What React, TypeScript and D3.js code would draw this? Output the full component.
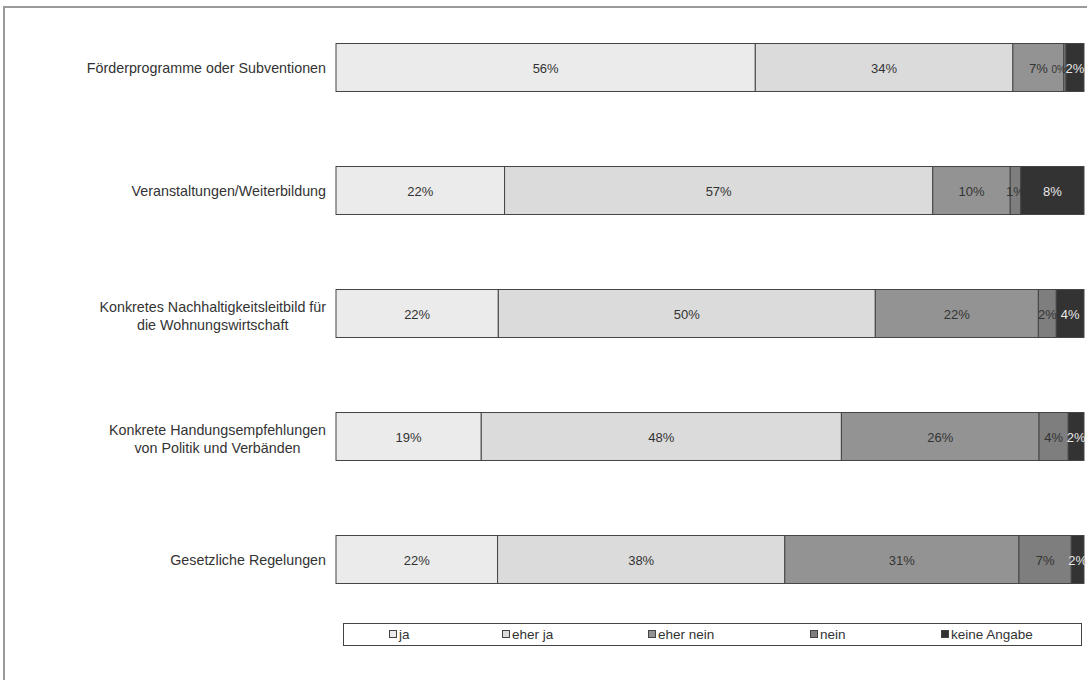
import React, { useEffect, useRef } from "react";
import * as d3 from "d3";

const categories = [
  "Förderprogramme oder Subventionen",
  "Veranstaltungen/Weiterbildung",
  "Konkretes Nachhaltigkeitsleitbild für\ndie Wohnungswirtschaft",
  "Konkrete Handungsempfehlungen\nvon Politik und Verbänden",
  "Gesetzliche Regelungen",
];
const seriesNames = ["ja", "eher ja", "eher nein", "nein", "keine Angabe"];
const ja = [56.0, 22.4, 21.7, 19.4, 21.6];
const eherJa = [34.4, 56.9, 50.4, 48.1, 38.4];
const eherNein = [6.8, 10.3, 21.8, 26.4, 31.3];
const nein = [0.3, 1.4, 2.4, 3.9, 7.0];
const keineAngabe = [2.4, 8.4, 3.7, 2.1, 1.7];
const seriesValues = [ja, eherJa, eherNein, nein, keineAngabe];
const colors = ["#ebebeb", "#dbdbdb", "#939393", "#7e7e7e", "#333333"];
const labelColors = ["#333", "#333", "#333", "#333", "#e8e8e8"];

const W = 1087;
const H = 680;

export default function App() {
  const ref = useRef<SVGSVGElement>(null);
  useEffect(() => {
    const svg = d3.select(ref.current);
    svg.selectAll("*").remove();
    const font = "'Liberation Sans', Arial, sans-serif";

    // frame
    svg.append("line").attr("x1", 3).attr("x2", W).attr("y1", 7).attr("y2", 7)
      .attr("stroke", "#9a9a9a").attr("stroke-width", 2);
    svg.append("line").attr("x1", 4).attr("x2", 4).attr("y1", 7).attr("y2", H)
      .attr("stroke", "#9a9a9a").attr("stroke-width", 2);

    const y = d3.scaleBand<string>().domain(categories).range([6, 621])
      .paddingInner(0.61).paddingOuter(0.305);
    const x = d3.scaleLinear().domain([0, 1]).range([336, 1084]);

    categories.forEach((cat, i) => {
      const total = d3.sum(seriesValues, (s) => s[i]);
      let cum = 0;
      const y0 = y(cat)!;
      const bh = y.bandwidth();
      seriesValues.forEach((s, k) => {
        const v = s[i] / total;
        const x0 = x(cum);
        const x1 = x(cum + v);
        cum += v;
        svg.append("rect").attr("x", x0).attr("y", y0).attr("width", x1 - x0).attr("height", bh)
          .attr("fill", colors[k]).attr("stroke", "#444").attr("stroke-width", 1);
      });
      cum = 0;
      seriesValues.forEach((s, k) => {
        const v = s[i] / total;
        const xc = x(cum + v / 2);
        const x1 = x(cum + v);
        cum += v;
        const small = v < 0.01;
        svg.append("text").attr("x", small ? x1 : xc).attr("y", y0 + bh / 2 + 5)
          .attr("text-anchor", small ? "end" : "middle").attr("font-family", font)
          .attr("font-size", small ? 10 : 13)
          .attr("fill", labelColors[k]).text(Math.round(s[i]) + "%");
      });

      // category label
      const lines = cat.split("\n");
      const g = svg.append("text").attr("font-family", font).attr("font-size", 14.3)
        .attr("fill", "#333");
      const cy = y0 + bh / 2;
      const lh = 18;
      const tspans = lines.map((ln, j) =>
        g.append("tspan").attr("y", cy + 5 + (j - (lines.length - 1) / 2) * lh + (lines.length > 1 ? 2 : 0)).text(ln)
      );
      const widths = tspans.map((t) => (t.node() as SVGTSpanElement).getComputedTextLength());
      const maxW = d3.max(widths) || 0;
      const right = 326;
      tspans.forEach((t) => t.attr("x", right - maxW / 2).attr("text-anchor", "middle"));
    });

    // legend
    const lg = svg.append("g");
    lg.append("rect").attr("x", 343.5).attr("y", 623.5).attr("width", 738).attr("height", 22)
      .attr("fill", "#fff").attr("stroke", "#444").attr("stroke-width", 1);
    const legendX = [389, 502, 648, 810, 941];
    seriesNames.forEach((n, k) => {
      lg.append("rect").attr("x", legendX[k] + 0.5).attr("y", 630.5).attr("width", 7).attr("height", 7)
        .attr("fill", colors[k]).attr("stroke", "#444").attr("stroke-width", 1);
      lg.append("text").attr("x", legendX[k] + 10).attr("y", 639).attr("font-family", font)
        .attr("font-size", 13.5).attr("fill", "#333").text(n);
    });
  }, []);
  return (
    <svg ref={ref} width={W} height={H} style={{ position: "absolute", left: 0, top: 0, background: "#fff" }} />
  );
}
